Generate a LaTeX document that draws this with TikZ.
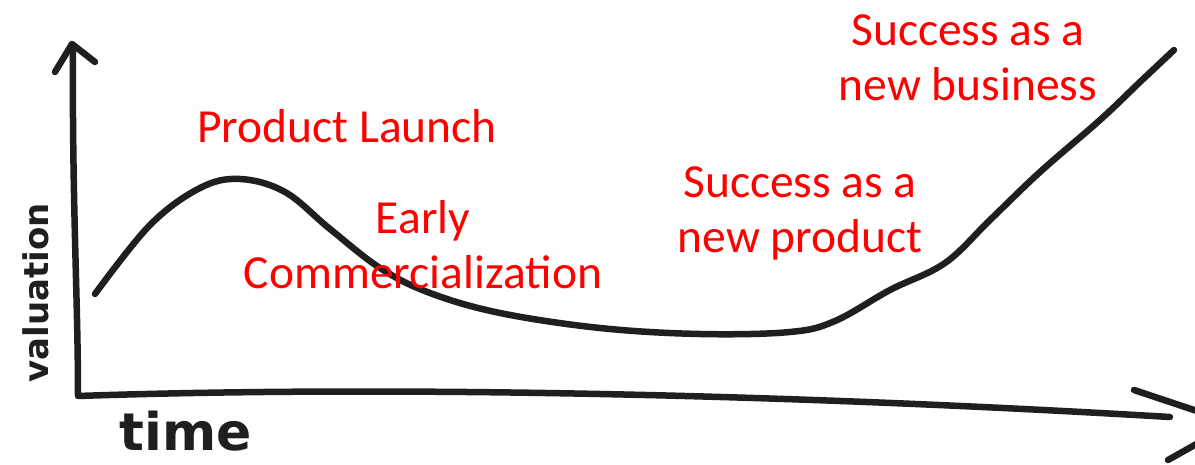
\documentclass[tikz,border=0pt]{standalone}
\usepackage{fontspec}
\setmainfont{Carlito}
\newfontfamily\handfont{DejaVu Sans}
\begin{document}
\begin{tikzpicture}[x=1pt,y=-1pt,
  ink/.style={draw=black!88,line width=6.5pt,line cap=round,line join=round},
  lbl/.style={text=red,font=\fontsize{47.5}{55}\selectfont,align=center,inner sep=0pt},
  hand/.style={text=black!88,inner sep=0pt}]
\useasboundingbox[fill=white] (0,0) rectangle (1195,465);
% axes
\coordinate (ytop) at (73,50);
\coordinate (origin) at (78,396);
\coordinate (xend) at (1170,417);
\draw[ink] (ytop) .. controls (72,200) and (78,300) .. (origin)
  .. controls (400,385) and (800,395) .. (xend);
\draw[ink] (55,72) -- (72,44) -- (95,62);
\draw[ink] (1134,390) -- (1200,412);
\draw[ink] (1168,460) -- (1200,442);
% curve
\draw[ink] plot[smooth,tension=0.6] coordinates {
 (95,294) (150,225) (200,188) (240,179) (285,192) (330,229) (380,268)
 (430,293) (500,313) (600,328) (700,334) (790,332) (835,321)
 (890,290) (945,263) (990,220) (1040,172) (1100,120) (1140,82) (1174,50)};
% labels
\node[lbl] (launch) at (347,126) {Product Launch};
\node[lbl] (early) at (423,245) {Early\\Commercialization};
\node[lbl] (newprod) at (800,213) {Success as a\\new product};
\node[lbl] (newbiz) at (968,58) {Success as a\\new business};
\node[hand,rotate=90,font=\handfont\bfseries\fontsize{34}{34}\selectfont] (val) at (36,293) {valuation};
\node[hand,font=\handfont\bfseries\fontsize{52}{52}\selectfont] (time) at (186,431) {time};
\end{tikzpicture}
\end{document}
